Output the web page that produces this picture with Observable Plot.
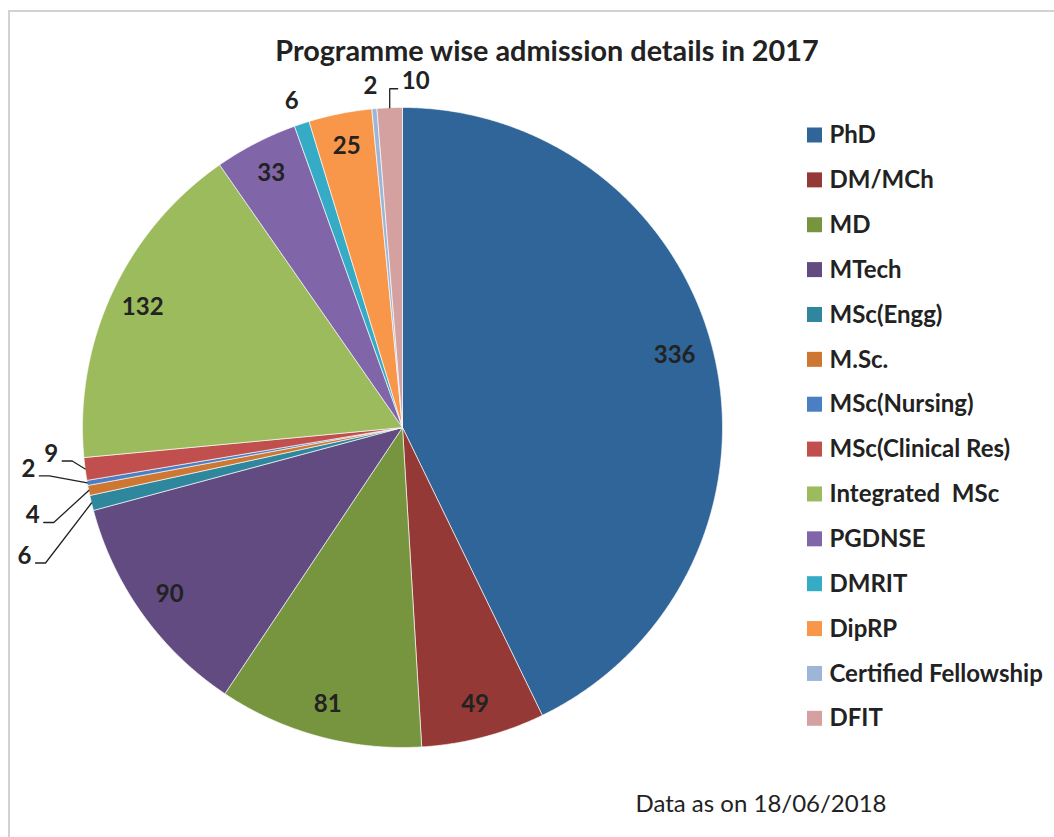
<!DOCTYPE html>
<html>
<head>
<meta charset="utf-8">
<script src="https://cdn.jsdelivr.net/npm/d3@7"></script>
<script src="https://cdn.jsdelivr.net/npm/@observablehq/plot@0.6"></script>
<style>
  html, body { margin: 0; padding: 0; background: #fff; }
  #wrap { position: relative; width: 1054px; height: 837px; overflow: hidden; font-family: Lato, "Open Sans", sans-serif; color: #222; }
  #frame { position: absolute; left: 8px; top: 10px; width: 1200px; height: 1000px; border: 2px solid #d2d2d2; box-sizing: border-box; }
  #chart { position: absolute; left: 0; top: 0; }
  #title { position: absolute; left: 247px; width: 600px; top: 36px; text-align: center; font-weight: 700; font-size: 28.8px; line-height: 28px; white-space: nowrap; }
  #caption { position: absolute; left: 561px; width: 400px; top: 791px; text-align: center; font-weight: 400; font-size: 24px; line-height: 24px; white-space: nowrap; }
</style>
</head>
<body>
<div id="wrap">
  <div id="frame"></div>
  <div id="chart"></div>
  <div id="title">Programme wise admission details in 2017</div>
  <div id="caption">Data as on 18/06/2018</div>
</div>
<script>
// ---- data ----
const programmes = ["PhD", "DM/MCh", "MD", "MTech", "MSc(Engg)", "M.Sc.", "MSc(Nursing)",
  "MSc(Clinical Res)", "Integrated  MSc", "PGDNSE", "DMRIT", "DipRP", "Certified Fellowship", "DFIT"];
const admissions = [336, 49, 81, 90, 6, 4, 2, 9, 132, 33, 6, 25, 2, 10];
const sliceColors = ["#2f6599", "#953937", "#77953e", "#614b80", "#2f879d", "#cd7733", "#4a80c3",
  "#c14f4d", "#9bbb5d", "#8066a8", "#36abc5", "#f8974a", "#9db5d6", "#d4a1a0"];

// ---- layout (pixels) ----
const W = 1054, H = 837;
const cx = 402, cy = 427, R = 320;
const labelR = 0.895 * R;
// outside label placement: offset from the slice's outer edge midpoint
const outsideLabels = [
  {name: "MSc(Engg)", dx: -67, dy: 53, leader: "left"},
  {name: "M.Sc.", dx: -56, dy: 25, leader: "left"},
  {name: "MSc(Nursing)", dx: -59, dy: -14, leader: "left"},
  {name: "MSc(Clinical Res)", dx: -34, dy: -15, leader: "left"},
  {name: "DMRIT", dx: -10, dy: -22, leader: null},
  {name: "Certified Fellowship", dx: -4, dy: -22, leader: null},
  {name: "DFIT", dx: 26, dy: -26, leader: "top"}
];
// small nudges for inside labels (Excel best-fit placement)
const insideNudge = {"PhD": [-7, -8]};

const data = programmes.map((name, i) => ({name, value: admissions[i]}));
const arcs = d3.pie().sort(null).value(d => d.value)(data);
const pt = (a, r) => ({x: cx + r * Math.sin(a), y: cy - r * Math.cos(a)});

// slice polygons
const piePts = arcs.flatMap(s => {
  const n = Math.max(2, Math.ceil((s.endAngle - s.startAngle) / (Math.PI / 720)));
  const arr = [{name: s.data.name, x: cx, y: cy}];
  for (let k = 0; k <= n; k++) {
    const a = s.startAngle + (s.endAngle - s.startAngle) * k / n;
    arr.push({name: s.data.name, ...pt(a, R)});
  }
  arr.push({name: s.data.name, x: cx, y: cy});
  return arr;
});

const outsideNames = new Set(outsideLabels.map(d => d.name));
const insideLabels = arcs.filter(s => !outsideNames.has(s.data.name)).map(s => {
  const m = (s.startAngle + s.endAngle) / 2;
  const p = pt(m, labelR);
  const nd = insideNudge[s.data.name] || [0, 0];
  return {text: String(s.data.value), x: p.x + nd[0], y: p.y + nd[1]};
});
const outLabelPts = [];
const leaderPts = [];
for (const o of outsideLabels) {
  const s = arcs.find(a => a.data.name === o.name);
  const e = pt((s.startAngle + s.endAngle) / 2, R);
  const lx = e.x + o.dx, ly = e.y + o.dy;
  outLabelPts.push({text: String(s.data.value), x: lx, y: ly});
  if (o.leader === "left") {
    leaderPts.push({id: o.name, x: e.x, y: e.y},
                   {id: o.name, x: lx + 21, y: ly + 7},
                   {id: o.name, x: lx + 11, y: ly + 7});
  } else if (o.leader === "top") {
    leaderPts.push({id: o.name, x: e.x, y: e.y},
                   {id: o.name, x: e.x, y: ly + 7},
                   {id: o.name, x: lx - 18, y: ly + 7});
  }
}

// legend
const legendX = 807, legendY0 = 135, legendStep = 44.87, sw = 15;
const legend = programmes.map((name, i) => ({name, y: legendY0 + i * legendStep}));

const chart = Plot.plot({
  width: W, height: H,
  margin: 0,
  x: {domain: [0, W], range: [0, W], axis: null},
  y: {domain: [0, H], range: [0, H], axis: null},
  color: {domain: programmes, range: sliceColors},
  style: {fontFamily: "Lato, 'Open Sans', sans-serif", background: "transparent"},
  marks: [
    Plot.line(piePts, {x: "x", y: "y", z: "name", fill: "name", stroke: "white", strokeWidth: 0.8, strokeOpacity: 0.8}),
    Plot.text(insideLabels, {x: "x", y: "y", text: "text", fontSize: 24, fontWeight: "bold", fill: "#222"}),
    Plot.text(outLabelPts, {x: "x", y: "y", text: "text", fontSize: 24, fontWeight: "bold", fill: "#222"}),
    Plot.line(leaderPts, {x: "x", y: "y", z: "id", stroke: "#222", strokeWidth: 1.3, strokeLinejoin: "miter"}),
    Plot.rect(legend, {x1: () => legendX, x2: () => legendX + sw, y1: d => d.y - sw / 2, y2: d => d.y + sw / 2, fill: "name"}),
    Plot.text(legend, {x: () => legendX + 22, y: "y", text: "name", textAnchor: "start", fontSize: 24, fontWeight: "bold", fill: "#222"})
  ]
});
document.getElementById("chart").appendChild(chart);
</script>
</body>
</html>
